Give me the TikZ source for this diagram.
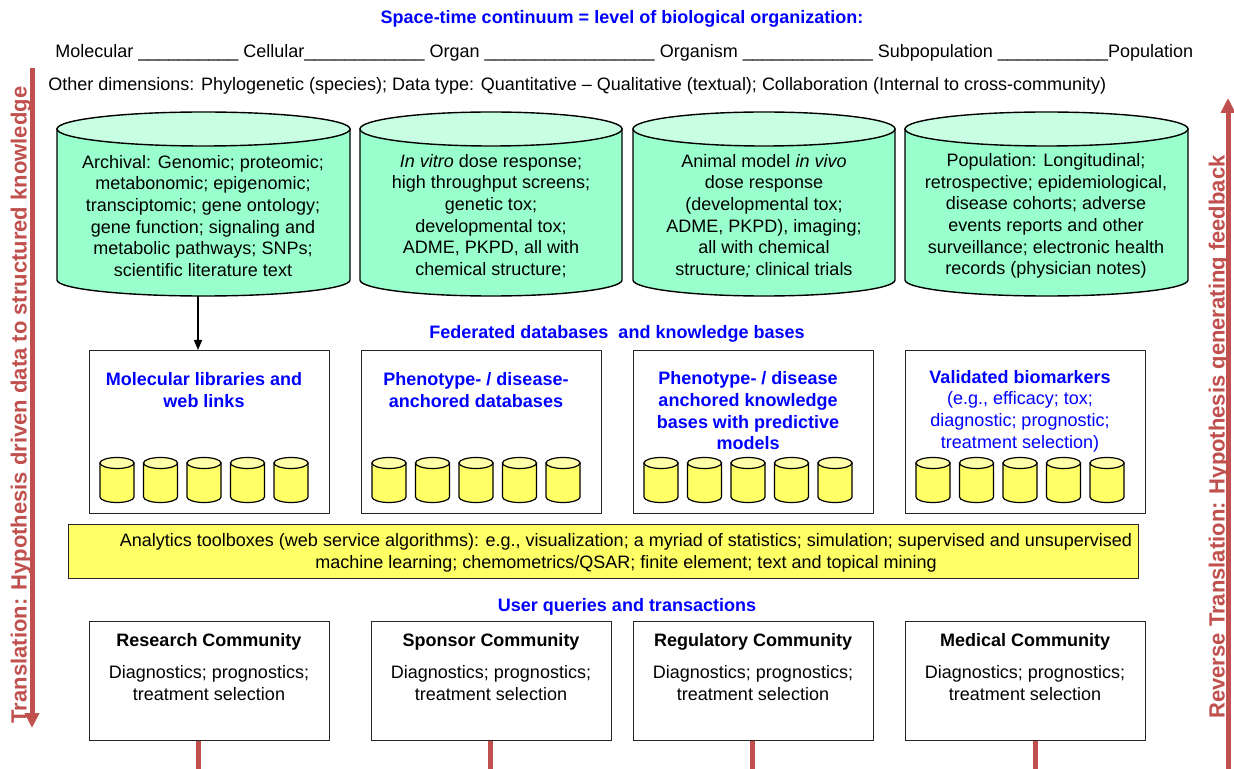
\documentclass[tikz,border=0pt]{standalone}
\usepackage{fontspec}
\setmainfont{Liberation Sans}
\usetikzlibrary{arrows.meta}
\definecolor{cylgreen}{RGB}{153,255,204}
\definecolor{cyltop}{RGB}{200,255,226}
\definecolor{dbyellow}{RGB}{255,255,102}
\definecolor{dbtop}{RGB}{255,255,170}
\definecolor{transred}{RGB}{192,80,77}
\definecolor{headblue}{RGB}{0,0,255}

\begin{document}
\begin{tikzpicture}[x=0.5pt,y=-0.5pt,
    txt/.style={font=\fontsize{9}{10.85}\selectfont, align=center, inner sep=0pt},
    head/.style={txt, font=\fontsize{9}{10.85}\selectfont\bfseries, text=headblue},
    frame/.style={draw=black!85, line width=0.7pt, fill=white, minimum width=120pt, inner sep=0pt, anchor=north west},
    redline/.style={draw=transred, line width=2.5pt},
    sidetxt/.style={font=\fontsize{11}{13}\selectfont\bfseries, text=transred, rotate=90, inner sep=0pt}]
    \useasboundingbox (0,0) rectangle (1234,769);

    % headings
    \node[head] (spacetime) at (622,19) {Space-time continuum = level of biological organization:};
    \node[txt, anchor=west] (levels) at (55,53) {Molecular \_\_\_\_\_\_\_\_\_\_ Cellular\_\_\_\_\_\_\_\_\_\_\_\_ Organ \_\_\_\_\_\_\_\_\_\_\_\_\_\_\_\_\_ Organism \_\_\_\_\_\_\_\_\_\_\_\_\_ Subpopulation \_\_\_\_\_\_\_\_\_\_\_Population};
    \node[txt, anchor=west] (otherdim) at (48,86) {Other dimensions: Phylogenetic (species); Data type: Quantitative -- Qualitative (textual); Collaboration (Internal\ to cross-community)};

    % translation arrows
    \coordinate (ltop) at (32,68);
    \coordinate (lbot) at (32,728);
    \draw[redline, -{Triangle[width=7pt,length=7.5pt]}] (ltop) -- (lbot);
    \node[sidetxt] (transl) at (21,405) {Translation: Hypothesis driven data to structured knowledge};
    \coordinate (rbot) at (1228,769);
    \coordinate (rtop) at (1228,98);
    \draw[redline, -{Triangle[width=7pt,length=7.5pt]}] (rbot) -- (rtop);
    \node[sidetxt] (revtransl) at (1219,437) {Reverse Translation: Hypothesis generating feedback};

    % data sources
    \foreach \xl/\xr in {57/350,360/622,633/895,905/1188}{
        \pgfmathsetmacro\rx{(\xr-\xl)/2}
        \filldraw[fill=cylgreen, line width=0.7pt] (\xl,129) -- (\xl,280) arc[start angle=180, end angle=0, x radius=\rx, y radius=16] -- (\xr,129) -- cycle;
        \filldraw[fill=cyltop, line width=0.7pt] (\xl+\rx,129) ellipse[x radius=\rx, y radius=17];
    }
    \node[txt] (archival) at (203,216) {Archival: Genomic; proteomic;\\metabonomic; epigenomic;\\transciptomic; gene ontology;\\gene function; signaling and\\metabolic pathways; SNPs;\\scientific literature text};
    \node[txt] (invitro) at (491,216) {\textit{In vitro} dose response;\\high throughput screens;\\genetic tox;\\developmental tox;\\ADME, PKPD, all with\\chemical structure;};
    \node[txt] (animal) at (764,216) {Animal model \textit{in vivo}\\dose response\\(developmental tox;\\ADME, PKPD), imaging;\\all with chemical\\structure\textit{;} clinical trials};
    \node[txt] (population) at (1046,216) {Population: Longitudinal;\\retrospective; epidemiological,\\disease cohorts; adverse\\events reports and other\\surveillance; electronic health\\records (physician notes)};

    % federated databases
    \node[head] (federated) at (617,334) {Federated databases\ \ and knowledge bases};
    \node[frame, minimum height=81.5pt] (mol) at (89,350) {};
    \node[frame, minimum height=81.5pt] (pheno) at (361,350) {};
    \node[frame, minimum height=81.5pt] (know) at (633,350) {};
    \node[frame, minimum height=81.5pt] (bio) at (905,350) {};
    \foreach \bx in {89,361,633,905}
        \foreach \i in {0,...,4}{
            \pgfmathsetmacro\cx{\bx+28+43.5*\i}
            \filldraw[fill=dbyellow, line width=0.6pt] (\cx-17,463) -- (\cx-17,497) arc[start angle=180, end angle=0, x radius=17, y radius=5.5] -- (\cx+17,463) -- cycle;
            \filldraw[fill=dbtop, line width=0.6pt] (\cx,463) ellipse[x radius=17, y radius=5.5];
        }
    \node[head] (moltxt) at (204,390) {Molecular libraries and\\web links};
    \node[head] (phenotxt) at (476,390) {Phenotype- / disease-\\anchored databases};
    \node[head] (knowtxt) at (748,411) {Phenotype- / disease\\anchored knowledge\\bases with predictive\\models};
    \node[txt, text=headblue] (biotxt) at (1020,411) {\textbf{Validated biomarkers}\\(e.g., efficacy; tox;\\diagnostic; prognostic;\\treatment selection)};
    \coordinate (archbot) at (198,296);
    \draw[-{Triangle[width=4pt,length=5pt]}, line width=0.6pt] (archbot) -- (archbot |- mol.north);

    % analytics
    \node[frame, fill=dbyellow, minimum width=535pt, minimum height=27pt] (anl) at (68,524) {};
    \node[txt] (anltxt) at (626,553) {Analytics toolboxes (web service algorithms): e.g., visualization; a myriad of statistics; simulation; supervised and unsupervised\\machine learning; chemometrics/QSAR; finite element; text and topical mining};

    % user communities
    \node[head] (queries) at (627,607) {User queries and transactions};
    \node[frame, minimum height=59.5pt] (research) at (89,621) {};
    \node[frame, minimum height=59.5pt] (sponsor) at (371,621) {};
    \node[frame, minimum height=59.5pt] (regul) at (633,621) {};
    \node[frame, minimum height=59.5pt] (medical) at (905,621) {};
    \node[txt] (restxt) at (209,667) {\textbf{Research\ Community}\\[5pt]Diagnostics; prognostics;\\treatment selection};
    \node[txt] (spotxt) at (491,667) {\textbf{Sponsor Community}\\[5pt]Diagnostics; prognostics;\\treatment selection};
    \node[txt] (regtxt) at (753,667) {\textbf{Regulatory Community}\\[5pt]Diagnostics; prognostics;\\treatment selection};
    \node[txt] (medtxt) at (1025,667) {\textbf{Medical Community}\\[5pt]Diagnostics; prognostics;\\treatment selection};
    \coordinate (rl1) at (198,769);
    \coordinate (rl2) at (490,769);
    \coordinate (rl3) at (752,769);
    \coordinate (rl4) at (1035,769);
    \draw[redline] (rl1 |- research.south) -- (rl1);
    \draw[redline] (rl2 |- sponsor.south) -- (rl2);
    \draw[redline] (rl3 |- regul.south) -- (rl3);
    \draw[redline] (rl4 |- medical.south) -- (rl4);
\end{tikzpicture}
\end{document}
